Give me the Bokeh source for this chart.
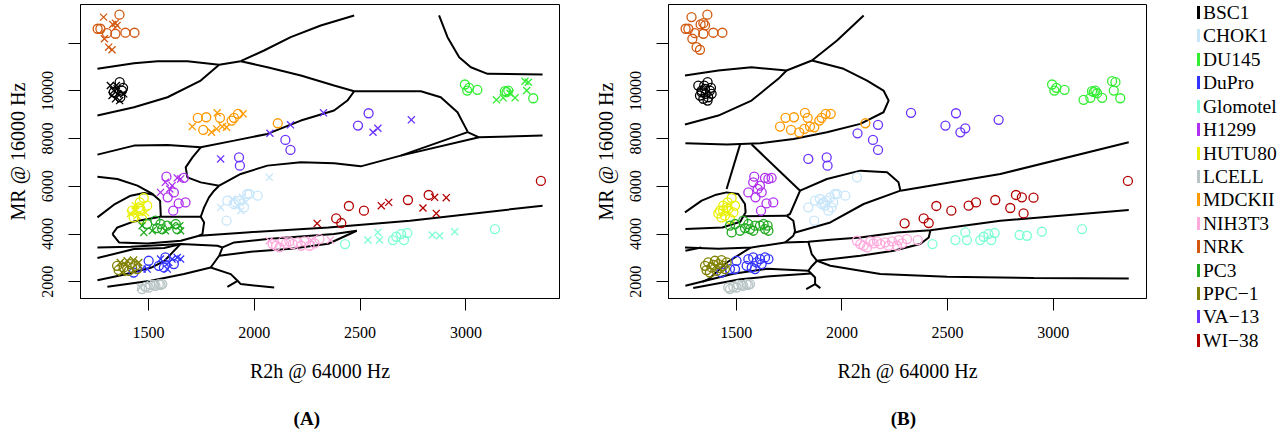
from bokeh.plotting import figure
from bokeh.layouts import row
from bokeh.models import Range1d, FixedTicker, LinearAxis, Div
from bokeh.embed import file_html
from bokeh.resources import INLINE

SERIF = "Liberation Serif"

# ---------------- data (R2h @ 64000 Hz, MR @ 16000 Hz, 1 = cross in panel A) ----------------
BSC1_R2H = [1320, 1364, 1336, 1352, 1375, 1328, 1344, 1367, 1383, 1355, 1336, 1364, 1380, 1348]
BSC1_MR = [10224, 10363, 10014, 10086, 10014, 9805, 9666, 9733, 9876, 9876, 9943, 9595, 10128, 10224]
BSC1_CROSS = [1, 0, 1, 1, 0, 1, 1, 0, 1, 1, 0, 1, 0, 1]

CHOK1_R2H = [1841, 1873, 1896, 1912, 1920, 1928, 1944, 1951, 1967, 1959, 1869, 1904, 1936, 2071, 1977, 2016]
CHOK1_MR = [5118, 5399, 5470, 5328, 5189, 5399, 5538, 5118, 5680, 5328, 4560, 5260, 4979, 6377, 5680, 5609]
CHOK1_CROSS = [1, 0, 1, 0, 1, 0, 1, 0, 0, 1, 0, 0, 1, 1, 0, 0]

DU145_R2H = [2995, 3006, 3015, 3054, 3144, 3176, 3184, 3200, 3208, 3232, 3279, 3295, 3287, 3318, 3192]
DU145_MR = [10267, 10015, 10128, 10044, 9625, 9709, 9987, 10015, 9902, 9709, 10405, 10363, 10015, 9692, 9945]
DU145_CROSS = [0, 0, 0, 0, 1, 1, 0, 0, 1, 1, 1, 1, 1, 0, 0]

DUPRO_R2H = [1430, 1470, 1501, 1494, 1549, 1557, 1580, 1596, 1612, 1636, 1652, 1589, 1573, 1620]
DUPRO_MR = [2390, 2533, 2881, 2533, 2671, 2953, 3020, 2810, 2953, 3020, 2953, 2533, 2600, 2743]
DUPRO_CROSS = [0, 1, 0, 1, 0, 1, 0, 1, 1, 1, 1, 1, 0, 0]

GLOMOTEL_R2H = [2429, 2537, 2584, 2592, 2655, 2671, 2694, 2707, 2723, 2841, 2876, 2947, 3137]
GLOMOTEL_MR = [3582, 3750, 4069, 3750, 3750, 3888, 4002, 3750, 4044, 3960, 3930, 4098, 4211]
GLOMOTEL_CROSS = [0, 1, 1, 1, 0, 0, 0, 0, 0, 1, 1, 1, 0]

H1299_R2H = [1585, 1636, 1667, 1557, 1601, 1612, 1591, 1620, 1643, 1675, 1617, 1580, 1652]
H1299_MR = [6406, 6352, 6352, 5747, 5890, 6029, 5538, 5747, 5286, 5328, 4979, 6167, 6310]
H1299_CROSS = [0, 1, 0, 1, 1, 1, 0, 0, 0, 0, 0, 1, 1]

HUTU80_R2H = [1423, 1438, 1459, 1478, 1446, 1462, 1486, 1430, 1470, 1415, 1454, 1494, 1438]
HUTU80_MR = [4979, 5189, 5328, 5512, 4770, 5051, 4908, 4698, 4631, 4866, 5118, 5189, 4979]
HUTU80_CROSS = [0, 1, 0, 0, 1, 0, 1, 0, 0, 1, 0, 0, 1]

LCELL_R2H = [1462, 1486, 1509, 1525, 1549, 1565, 1501, 1533, 1557, 1470]
LCELL_MR = [1761, 1790, 1874, 1874, 1903, 1903, 1761, 1832, 1874, 1694]
LCELL_CROSS = [1, 0, 0, 0, 0, 0, 0, 0, 0, 0]

MDCKII_R2H = [1707, 1733, 1773, 1759, 1798, 1822, 1825, 1838, 1849, 1893, 1904, 1923, 1947, 1869, 2111]
MDCKII_MR = [8504, 8870, 8895, 8366, 8265, 8408, 9079, 8870, 8504, 8756, 8870, 9037, 9037, 8475, 8643]
MDCKII_CROSS = [1, 0, 0, 0, 1, 1, 1, 0, 1, 0, 0, 0, 1, 1, 0]

NIH3T3_R2H = [2071, 2103, 2119, 2134, 2166, 2182, 2205, 2221, 2261, 2269, 2285, 2308, 2359, 2087, 2150, 2237]
NIH3T3_MR = [3720, 3511, 3439, 3691, 3691, 3582, 3649, 3511, 3511, 3750, 3607, 3792, 3750, 3582, 3607, 3691]
NIH3T3_CROSS = [1, 0, 0, 0, 0, 0, 0, 0, 0, 1, 0, 0, 1, 0, 0, 0]

NRK_R2H = [1288, 1363, 1260, 1273, 1331, 1344, 1344, 1304, 1391, 1434, 1292, 1312, 1328, 1352]
NRK_MR = [13091, 13192, 12604, 12604, 12785, 12839, 12394, 12420, 12437, 12437, 12185, 11832, 11723, 12743]
NRK_CROSS = [1, 0, 0, 0, 1, 1, 0, 0, 0, 0, 1, 1, 1, 1]

PC3_R2H = [1470, 1494, 1518, 1533, 1557, 1580, 1589, 1612, 1636, 1652, 1629, 1648, 1478, 1565, 1541]
PC3_MR = [4350, 4421, 4140, 4560, 4421, 4140, 4350, 4350, 4211, 4140, 4421, 4350, 4069, 4211, 4253]
PC3_CROSS = [1, 0, 1, 0, 0, 1, 0, 1, 0, 1, 0, 1, 1, 0, 0]

PPC1_R2H = [1352, 1367, 1383, 1399, 1415, 1430, 1438, 1407, 1375, 1446, 1391, 1423, 1359, 1454]
PPC1_MR = [2671, 2810, 2600, 2881, 2743, 2911, 2671, 2462, 2390, 2533, 2713, 2575, 2491, 2810]
PPC1_CROSS = [0, 1, 0, 1, 0, 1, 0, 0, 1, 0, 1, 0, 0, 1]

VA13_R2H = [2171, 2074, 2147, 2171, 2327, 2540, 2490, 2561, 2584, 2742, 1841, 1928, 1932]
VA13_MR = [8576, 8223, 7946, 7527, 9079, 9063, 8546, 8265, 8433, 8786, 7149, 7216, 6868]
VA13_CROSS = [1, 1, 0, 0, 1, 0, 0, 1, 1, 1, 1, 0, 0]

WI38_R2H = [2297, 2387, 2411, 2447, 2518, 2600, 2635, 2726, 2797, 2824, 2852, 2860, 2907, 3354]
WI38_MR = [4447, 4656, 4463, 5177, 4979, 5189, 5328, 5428, 5093, 5638, 5538, 4866, 5525, 6226]
WI38_CROSS = [1, 0, 0, 0, 0, 1, 1, 0, 1, 0, 1, 1, 1, 0]

CELL_LINES = ["BSC1", "CHOK1", "DU145", "DuPro", "Glomotel", "H1299", "HUTU80", "LCELL",
              "MDCKII", "NIH3T3", "NRK", "PC3", "PPC\u22121", "VA\u221213", "WI\u221238"]
COLORS = ["#000000", "#C8E6FA", "#33EE33", "#3333FF", "#7FFFD4", "#B030F0", "#E8F000", "#B8C4C4",
          "#FF9900", "#FFAADD", "#D2580F", "#22AA22", "#808000", "#6A33FF", "#B20000"]
SERIES = [
    (BSC1_R2H, BSC1_MR, BSC1_CROSS), (CHOK1_R2H, CHOK1_MR, CHOK1_CROSS),
    (DU145_R2H, DU145_MR, DU145_CROSS), (DUPRO_R2H, DUPRO_MR, DUPRO_CROSS),
    (GLOMOTEL_R2H, GLOMOTEL_MR, GLOMOTEL_CROSS), (H1299_R2H, H1299_MR, H1299_CROSS),
    (HUTU80_R2H, HUTU80_MR, HUTU80_CROSS), (LCELL_R2H, LCELL_MR, LCELL_CROSS),
    (MDCKII_R2H, MDCKII_MR, MDCKII_CROSS), (NIH3T3_R2H, NIH3T3_MR, NIH3T3_CROSS),
    (NRK_R2H, NRK_MR, NRK_CROSS), (PC3_R2H, PC3_MR, PC3_CROSS),
    (PPC1_R2H, PPC1_MR, PPC1_CROSS), (VA13_R2H, VA13_MR, VA13_CROSS),
    (WI38_R2H, WI38_MR, WI38_CROSS),
]

# decision boundaries, panel A (data units)
A_BOUND_X = [
    [1259, 1432, 1543, 1684, 1834, 1936],
    [1936, 2046, 2172, 2314, 2472],
    [1936, 2062, 2220, 2377, 2472, 2692, 2787, 2881, 2960, 3008],
    [1259, 1432, 1590, 1747, 1834],
    [1259, 1432, 1590, 1747, 1905, 2062, 2220, 2377, 2440, 2472],
    [1747, 1708, 1676, 1684, 1747, 1834],
    [1834, 1936, 2062, 2220, 2377, 2503, 2692, 3008, 3062],
    [2692, 3062, 3362],
    [2873, 2913, 2968, 3023, 3102, 3362],
    [1739, 1963, 2350, 2736, 3362],
    [1834, 1810, 1786, 1763, 1747, 1763, 1755, 1739],
    [1259, 1353, 1448, 1519, 1555, 1558, 1558],
    [1259, 1337, 1416, 1479, 1526],
    [1558, 1747],
    [1330, 1353, 1432, 1558],
    [1330, 1361, 1495, 1653, 1739],
    [1259, 1416, 1653, 1826, 1850],
    [1850, 1905, 2062, 2377, 2484],
    [1834, 1984, 2173, 2350, 2484],
    [1850, 1834, 1794],
    [1259, 1432, 1574, 1650],
    [1259, 1382, 1511, 1576, 1650],
    [1306, 1511, 1668, 1794, 1889, 1921, 1936, 2094],
    [1921, 1873],
]
A_BOUND_Y = [
    [10925, 11160, 11244, 11244, 11093, 11244],
    [11244, 11693, 12251, 12742, 13161],
    [11244, 10992, 10644, 10224, 9985, 9985, 9985, 9733, 9104, 8294],
    [8965, 9314, 9733, 10434, 11093],
    [7329, 7707, 7736, 7635, 7916, 8197, 8756, 9175, 9595, 9985],
    [7635, 7216, 6796, 6376, 6166, 6028],
    [6028, 6519, 6868, 7006, 6964, 6838, 7287, 8273, 8055],
    [7287, 8055, 8126],
    [13161, 12251, 11412, 10992, 10715, 10686],
    [3930, 4069, 4278, 4560, 5189],
    [6028, 5818, 5537, 5118, 4727, 4488, 4002, 3930],
    [6406, 6309, 6028, 5680, 5399, 4841, 4727],
    [4698, 5231, 5609, 5722, 5651],
    [4727, 4727],
    [4002, 4278, 4530, 4727],
    [4002, 3649, 3607, 3720, 3930],
    [3439, 3469, 3582, 3511, 3439],
    [3439, 3649, 3792, 4002, 4140],
    [3091, 3259, 3385, 3594, 4140],
    [3439, 3091, 2600],
    [2995, 3372, 3414, 3570],
    [2063, 2294, 2587, 2881, 3570],
    [1790, 2042, 2323, 2600, 2323, 2042, 1903, 1761],
    [2042, 1790],
]

# decision boundaries, panel B (data units)
B_BOUND_X = [
    [1257, 1415, 1572, 1738, 1858],
    [1858, 1977, 2103],
    [1858, 2008, 2119, 2197, 2221, 2197, 2087, 1929, 1771, 1614, 1456, 1259],
    [1257, 1415, 1572, 1699, 1738],
    [1518, 1454],
    [1572, 1802],
    [1802, 1929, 2087, 2214, 2268, 2277],
    [2277, 2750, 3358],
    [1775, 1945, 2103, 2277],
    [1802, 1754, 1738],
    [1738, 1770, 1778, 1775, 1770, 1731],
    [1257, 1336, 1405, 1454, 1509, 1541, 1544, 1533],
    [1533, 1738],
    [1259, 1434, 1519, 1533],
    [1257, 1415, 1572, 1731, 1841, 1945, 2087, 2261, 2419, 2750, 3358],
    [1259, 1334],
    [1841, 1857, 1882, 2087, 2245, 2371, 2411, 2419],
    [1882, 1945, 2182, 2498, 2908, 3358],
    [1882, 1855, 1841, 1873, 1873, 1831],
    [1873, 1898],
    [1569, 1453, 1375, 1340],
    [1259, 1486, 1647, 1841],
    [1296, 1519, 1661, 1855],
]
B_BOUND_Y = [
    [10644, 10854, 10992, 10854, 11273],
    [11273, 12112, 13161],
    [11273, 10925, 10434, 10014, 9595, 9104, 8617, 8265, 7988, 7803, 7749, 7803],
    [8588, 8965, 9595, 10505, 10854],
    [7760, 5890],
    [7760, 5818],
    [5818, 6309, 6658, 6586, 6167, 5818],
    [5818, 6519, 7845],
    [4056, 4488, 5260, 5818],
    [5818, 4841, 4769],
    [4769, 4560, 4140, 4056, 3930, 3649],
    [4908, 5399, 5651, 5747, 5680, 5260, 4908, 4748],
    [4748, 4769],
    [4211, 4278, 4518, 4748],
    [3439, 3385, 3439, 3649, 3679, 3763, 3859, 4069, 4161, 4560, 5009],
    [3301, 3439],
    [3679, 3162, 2881, 3091, 3301, 3582, 3859, 4161],
    [2881, 2671, 2323, 2210, 2155, 2138],
    [2881, 2629, 2462, 2180, 1903, 1694],
    [1903, 1736],
    [3439, 2797, 2147, 2000],
    [1832, 2336, 2545, 2462],
    [1736, 2105, 2231, 2350],
]

X_TICKS = [1500, 2000, 2500, 3000]
Y_TICKS = [2000, 4000, 6000, 8000, 10000, 12000]
X_LIMITS = (1179, 3442)
Y_LIMITS = (1300, 13620)
FIG_H = 436
TAG_POS_A = 2248   # where the "(A)" caption sits along the x axis
TAG_POS_B = 2291   # where the "(B)" caption sits along the x axis


def make_panel(width, border_left, border_right, tag, tag_pos):
    p = figure(width=width, height=FIG_H,
               x_range=Range1d(*X_LIMITS), y_range=Range1d(*Y_LIMITS),
               output_backend="svg", toolbar_location=None,
               min_border_left=border_left, min_border_right=border_right,
               min_border_top=4, min_border_bottom=138)
    p.grid.visible = False
    p.background_fill_color = "white"
    p.border_fill_color = "white"
    p.outline_line_color = "black"
    p.outline_line_alpha = 1.0
    p.outline_line_width = 1
    p.xaxis.ticker = FixedTicker(ticks=X_TICKS)
    p.yaxis.ticker = FixedTicker(ticks=Y_TICKS)
    p.yaxis.major_label_overrides = {12000: ""}
    p.yaxis.major_label_orientation = "parallel"
    p.xaxis.axis_label = "R2h @ 64000 Hz"
    p.yaxis.axis_label = "MR @ 16000 Hz"
    for ax in p.axis:
        ax.axis_line_color = "black"
        ax.major_tick_line_color = "black"
        ax.major_tick_in = 0
        ax.major_tick_out = 12
        ax.minor_tick_line_color = None
        ax.major_label_text_font = SERIF
        ax.major_label_text_font_size = "16px"
        ax.major_label_text_color = "black"
        ax.axis_label_text_font = SERIF
        ax.axis_label_text_font_size = "20px"
        ax.axis_label_text_font_style = "normal"
        ax.axis_label_text_color = "black"
    p.xaxis.major_label_standoff = 16
    p.xaxis.axis_label_standoff = 19
    p.yaxis.major_label_standoff = 15
    p.yaxis.axis_label_standoff = 11
    # panel caption "(A)" / "(B)" as a bare, tick-less axis beneath the x axis
    cap = LinearAxis(ticker=FixedTicker(ticks=[tag_pos]),
                     major_label_overrides={tag_pos: tag},
                     axis_line_color=None, major_tick_line_color=None,
                     minor_tick_line_color=None, major_tick_in=0, major_tick_out=0,
                     minor_tick_in=0, minor_tick_out=0, major_label_standoff=23,
                     major_label_text_font=SERIF, major_label_text_font_size="19px",
                     major_label_text_font_style="bold", major_label_text_color="black")
    p.add_layout(cap, "below")
    return p


pA = make_panel(575, 80, 16, "(A)", TAG_POS_A)
pB = make_panel(585, 93, 14, "(B)", TAG_POS_B)

pA.multi_line(xs=A_BOUND_X, ys=A_BOUND_Y, line_color="black", line_width=2)
pB.multi_line(xs=B_BOUND_X, ys=B_BOUND_Y, line_color="black", line_width=2)

for name, color, (xs, ys, cross) in zip(CELL_LINES, COLORS, SERIES):
    ox = [x for x, c in zip(xs, cross) if c == 0]
    oy = [y for y, c in zip(ys, cross) if c == 0]
    cx = [x for x, c in zip(xs, cross) if c == 1]
    cy = [y for y, c in zip(ys, cross) if c == 1]
    pA.scatter(ox, oy, marker="circle", size=9, line_color=color, fill_color=None, line_width=1.3)
    pA.scatter(cx, cy, marker="x", size=10, line_color=color, line_width=1.3)
    pB.scatter(xs, ys, marker="circle", size=9, line_color=color, fill_color=None, line_width=1.3)

# legend (HTML): one row per cell line, colour swatch + name
ROW_PITCH = 23.43
rows_html = "".join(
    f'<div style="height:{ROW_PITCH}px;line-height:{ROW_PITCH}px;white-space:nowrap;">'
    f'<span style="display:inline-block;width:3px;height:13px;background:{color};'
    f'vertical-align:baseline;margin-right:3px;"></span>{name}</div>'
    for name, color in zip(CELL_LINES, COLORS)
)
legend_html = (f'<div style="padding-left:37px;padding-top:1px;font-family:\'{SERIF}\',serif;'
               f'font-size:19.5px;color:black;">{rows_html}</div>')
legend_div = Div(text=legend_html, width=120, height=FIG_H, margin=0)

layout = row(pA, pB, legend_div)
open("out.html", "w").write(file_html(layout, INLINE))
